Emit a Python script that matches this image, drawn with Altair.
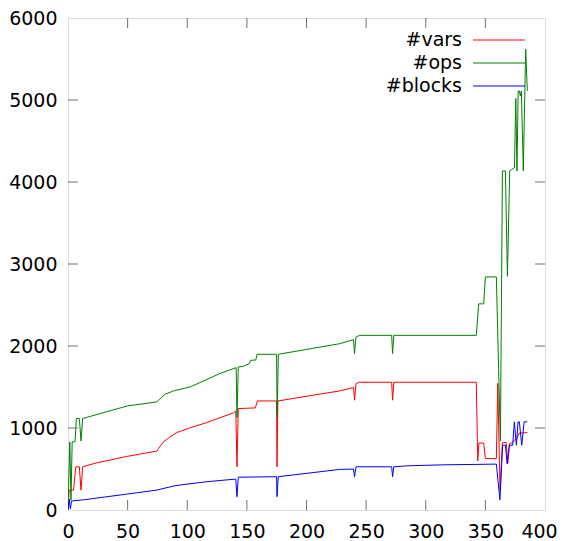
import altair as alt
import pandas as pd

# ---- data ----
series_names = ["#vars", "#ops", "#blocks"]
series_colors = ["#ff0000", "#008000", "#0000ff"]

vars_x = [0, 1, 4.6, 6.5, 9.5, 10.9, 12.3, 24.2, 50, 74.5, 75.9, 80.1, 85.7, 91.3, 102.4, 116.4,
          138.8, 140.7, 141.7, 142.8, 157, 159, 174.9, 175.3, 176, 227.8, 239.4, 240.3, 241.5,
          244.3, 271.4, 272.2, 273.2, 342.4, 343.6, 344.6, 348.6, 350, 359.2, 360.4, 362.3,
          364.3, 367.4, 368.8, 370.4, 372.7, 374.3, 376.5, 378.2, 385.1]
vars_y = [0, 243, 243, 527, 527, 243, 527, 575, 655, 718, 750, 831, 892, 945, 1002, 1067,
          1185, 1209, 527, 1237, 1245, 1330, 1330, 527, 1330, 1452, 1493, 1339, 1541,
          1558, 1558, 1339, 1558, 1558, 598, 817, 817, 627, 627, 1545, 240,
          820, 824, 566, 811, 819, 851, 870, 935, 945]

ops_x = [0, 1.5, 2.5, 3.5, 5.9, 7.0, 9.5, 10.9, 12.3, 50, 74.5, 77.3, 81.5, 88.5, 102.4, 115,
         127.2, 141.0, 141.7, 142.8, 147, 152, 153, 157.5, 158.5, 174.9, 175.4, 176.4, 227.8,
         239.4, 240.3, 241.5, 244.3, 271.4, 272.2, 273.2, 342.4, 344.4, 348.6, 350, 359.2,
         362.6, 364.3, 366.8, 368.5, 370.4, 371.8, 374.4, 375.5, 376.5, 377.5, 378.5, 379.3,
         380.2, 381.8, 383.8, 385.2]
ops_y = [0, 831, 120, 831, 831, 1116, 1116, 843, 1116, 1270, 1318, 1359, 1412, 1452, 1501, 1582,
         1663, 1736, 1128, 1744, 1752, 1784, 1825, 1830, 1899, 1899, 1128, 1899, 2028,
         2077, 1907, 2108, 2130, 2130, 1907, 2130, 2130, 2514, 2514, 2842, 2842,
         842, 4135, 4135, 2850, 4135, 4150, 4177, 5020, 4135, 5110, 5110, 5050,
         5110, 4135, 5620, 5110]

blocks_x = [0, 1, 2, 3, 12, 50, 74.5, 88.5, 94, 116.4, 140.7, 141.7, 142.8, 174.9, 175.3, 176.3,
            227.8, 239.4, 240.3, 241.5, 271.4, 272.2, 273.2, 284.5, 315.3, 342, 359.2, 362.2,
            364.5, 366.8, 368.2, 370.0, 372.9, 374.3, 376.0, 377.4, 378.5, 380.5, 382.5, 385.1]
blocks_y = [0, 130, 15, 110, 122, 195, 243, 292, 305, 345, 377, 162, 400, 406, 162, 406,
            495, 499, 406, 527, 527, 406, 527, 539, 551, 556, 560, 125,
            790, 790, 566, 790, 790, 1075, 790, 1075, 1075, 790, 1075, 1075]

x_ticks = [0, 50, 100, 150, 200, 250, 300, 350, 400]
y_ticks = [0, 1000, 2000, 3000, 4000, 5000, 6000]

# ---- build tables ----
rows = []
for name, xs, ys in [("#vars", vars_x, vars_y), ("#ops", ops_x, ops_y), ("#blocks", blocks_x, blocks_y)]:
    for i, (a, b) in enumerate(zip(xs, ys)):
        rows.append({"series": name, "x": a, "y": b, "i": i})
df = pd.DataFrame(rows)

xt = pd.DataFrame({"x": x_ticks[1:-1]})
yt = pd.DataFrame({"y": y_ticks[1:-1]})

W, H = 477, 492
FONT = "DejaVu Sans"
FS = 19
TICK = "#707070"

xscale = alt.Scale(domain=[0, 400], nice=False, zero=False)
yscale = alt.Scale(domain=[0, 6000], nice=False)

X = alt.X("x:Q", scale=xscale,
          axis=alt.Axis(values=x_ticks, title=None, ticks=False, grid=False, domain=False,
                        labelFont=FONT, labelFontSize=FS, labelColor="black",
                        labelPadding=12, format="d", labelFlush=False,
                        labelOffset={"condition": {"test": "datum.value === 400", "value": -6},
                                     "value": 0}))
Y = alt.Y("y:Q", scale=yscale,
          axis=alt.Axis(values=y_ticks, title=None, ticks=False, grid=False, domain=False,
                        labelFont=FONT, labelFontSize=FS, labelColor="black",
                        labelPadding=11, format="d", labelFlush=False))

lines = alt.Chart(df).mark_line(strokeWidth=1, clip=True).encode(
    x=X, y=Y,
    color=alt.Color("series:N", scale=alt.Scale(domain=series_names, range=series_colors), legend=None),
    order=alt.Order("i:Q"),
)

tick_bottom = alt.Chart(xt).mark_rule(color=TICK, strokeWidth=1).encode(
    x=X, y=alt.value(H), y2=alt.value(H - 10))
tick_top = alt.Chart(xt).mark_rule(color=TICK, strokeWidth=1).encode(
    x=X, y=alt.value(0), y2=alt.value(10))
tick_left = alt.Chart(yt).mark_rule(color=TICK, strokeWidth=1).encode(
    y=Y, x=alt.value(0), x2=alt.value(10))
tick_right = alt.Chart(yt).mark_rule(color=TICK, strokeWidth=1).encode(
    y=Y, x=alt.value(W - 10), x2=alt.value(W))

legend_layers = []
leg_rows = [22, 45, 68]
for name, col, ry in zip(series_names, series_colors, leg_rows):
    ldf = pd.DataFrame({"name": [name]})
    legend_layers.append(
        alt.Chart(ldf).mark_text(align="right", baseline="middle", font=FONT, fontSize=FS, color="black")
        .encode(text="name:N", x=alt.value(394), y=alt.value(ry)))
    legend_layers.append(
        alt.Chart(ldf).mark_rule(color=col, strokeWidth=1)
        .encode(x=alt.value(405), x2=alt.value(457), y=alt.value(ry)))

chart = alt.layer(lines, tick_bottom, tick_top, tick_left, tick_right, *legend_layers).properties(
    width=W, height=H,
    autosize=alt.AutoSizeParams(type="none"),
    padding={"left": 60, "top": 10, "right": 13, "bottom": 31},
).configure_view(stroke="black", strokeWidth=1).configure(background="white")

chart.save("out.html", embed_options={"renderer": "svg", "actions": False})
